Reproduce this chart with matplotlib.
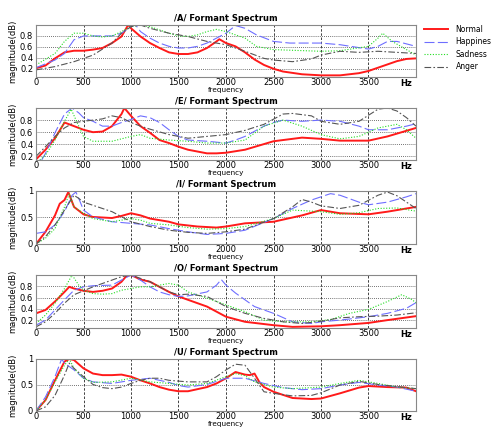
import matplotlib
matplotlib.use("Agg")
import matplotlib.pyplot as plt
from matplotlib.transforms import blended_transform_factory

plt.rcParams['font.family'] = ['DejaVu Sans']

series_names = ["Normal", "Happines", "Sadness", "Anger"]
vowels = ["/A/", "/E/", "/I/", "/O/", "/U/"]

# ---------------- /A/ ----------------
A_normal_f = [0, 100, 200, 300, 400, 500, 600, 700, 800, 900, 960, 980, 1000, 1100, 1200, 1300, 1400, 1500, 1600, 1700, 1800, 1900, 1930, 2000, 2100, 2200, 2300, 2400, 2500, 2600, 2800, 3000, 3200, 3400, 3500, 3600, 3700, 3800, 3900, 4000]
A_normal_m = [0.21, 0.26, 0.39, 0.50, 0.53, 0.53, 0.55, 0.58, 0.67, 0.79, 0.97, 1.00, 0.94, 0.79, 0.67, 0.58, 0.50, 0.47, 0.47, 0.50, 0.58, 0.70, 0.74, 0.67, 0.61, 0.50, 0.37, 0.27, 0.20, 0.15, 0.10, 0.08, 0.08, 0.12, 0.16, 0.22, 0.28, 0.34, 0.38, 0.39]
A_happy_f = [0, 200, 300, 400, 500, 600, 800, 900, 1000, 1050, 1100, 1200, 1300, 1400, 1500, 1600, 1700, 1800, 1900, 2000, 2100, 2200, 2320, 2500, 2670, 3000, 3200, 3500, 3600, 3700, 3800, 4000]
A_happy_m = [0.22, 0.36, 0.48, 0.73, 0.80, 0.80, 0.80, 0.85, 0.97, 1.00, 0.88, 0.76, 0.67, 0.61, 0.58, 0.58, 0.61, 0.67, 0.76, 0.85, 0.99, 0.94, 0.82, 0.70, 0.67, 0.67, 0.64, 0.56, 0.61, 0.70, 0.70, 0.61]
A_sad_f = [0, 200, 300, 400, 500, 600, 700, 800, 900, 1000, 1100, 1200, 1300, 1400, 1500, 1600, 1700, 1800, 1900, 2000, 2100, 2200, 2320, 2500, 3000, 3200, 3500, 3600, 3650, 3750, 3900, 4000]
A_sad_m = [0.27, 0.48, 0.70, 0.85, 0.85, 0.80, 0.78, 0.80, 0.88, 0.97, 1.00, 0.97, 0.91, 0.85, 0.80, 0.79, 0.82, 0.88, 0.92, 0.88, 0.82, 0.76, 0.61, 0.55, 0.52, 0.53, 0.61, 0.76, 0.85, 0.70, 0.55, 0.45]
A_anger_f = [0, 200, 400, 600, 800, 900, 1000, 1100, 1200, 1400, 1600, 1800, 2000, 2100, 2200, 2400, 2500, 2700, 2900, 3000, 3200, 3400, 3600, 3800, 4000]
A_anger_m = [0.18, 0.24, 0.33, 0.45, 0.67, 0.85, 0.97, 1.00, 0.94, 0.85, 0.79, 0.70, 0.64, 0.58, 0.52, 0.39, 0.36, 0.33, 0.38, 0.45, 0.52, 0.50, 0.52, 0.50, 0.48]

# ---------------- /E/ ----------------
E_normal_f = [0, 100, 200, 300, 400, 500, 600, 700, 800, 900, 930, 1000, 1100, 1200, 1300, 1400, 1500, 1600, 1700, 1800, 1900, 2000, 2200, 2500, 2800, 3000, 3200, 3500, 3700, 4000]
E_normal_m = [0.15, 0.31, 0.50, 0.76, 0.70, 0.64, 0.60, 0.61, 0.70, 0.90, 1.00, 0.87, 0.70, 0.59, 0.47, 0.42, 0.36, 0.31, 0.28, 0.25, 0.25, 0.26, 0.31, 0.45, 0.51, 0.49, 0.46, 0.46, 0.53, 0.67]
E_happy_f = [60, 100, 200, 300, 380, 450, 500, 600, 700, 800, 900, 1000, 1100, 1200, 1300, 1400, 1500, 1600, 1800, 2000, 2100, 2200, 2400, 2500, 2600, 2800, 3000, 3200, 3400, 3500, 3700, 3900, 4000]
E_happy_m = [0.14, 0.25, 0.59, 0.90, 1.00, 0.92, 0.84, 0.78, 0.70, 0.70, 0.76, 0.81, 0.87, 0.84, 0.76, 0.64, 0.53, 0.47, 0.45, 0.42, 0.47, 0.53, 0.70, 0.76, 0.80, 0.78, 0.80, 0.78, 0.70, 0.64, 0.64, 0.70, 0.74]
E_sad_f = [40, 100, 200, 300, 370, 450, 500, 600, 800, 1000, 1100, 1200, 1400, 1600, 1800, 2000, 2200, 2400, 2600, 2800, 3000, 3200, 3400, 3600, 3800, 3900, 4000]
E_sad_m = [0.14, 0.22, 0.47, 0.78, 0.98, 0.70, 0.53, 0.45, 0.45, 0.53, 0.56, 0.50, 0.47, 0.45, 0.42, 0.42, 0.47, 0.70, 0.80, 0.70, 0.56, 0.49, 0.53, 0.67, 0.73, 0.64, 0.50]
E_anger_f = [0, 100, 200, 300, 400, 500, 700, 800, 900, 1000, 1100, 1200, 1400, 1600, 1800, 2000, 2200, 2400, 2600, 2700, 2900, 3000, 3200, 3400, 3600, 3700, 3800, 3900, 4000]
E_anger_m = [0.20, 0.36, 0.53, 0.67, 0.76, 0.78, 0.82, 0.87, 0.84, 0.76, 0.70, 0.65, 0.56, 0.50, 0.53, 0.56, 0.63, 0.73, 0.90, 0.91, 0.87, 0.78, 0.73, 0.78, 0.98, 1.00, 0.95, 0.84, 0.70]

# ---------------- /I/ ----------------
I_normal_f = [0, 100, 200, 250, 300, 340, 400, 500, 600, 800, 900, 1000, 1100, 1200, 1400, 1500, 1700, 1900, 2000, 2200, 2500, 2800, 3000, 3200, 3500, 3700, 4000]
I_normal_m = [0.00, 0.23, 0.54, 0.76, 0.83, 0.98, 0.70, 0.56, 0.51, 0.49, 0.53, 0.58, 0.54, 0.48, 0.42, 0.37, 0.33, 0.31, 0.33, 0.39, 0.42, 0.54, 0.64, 0.58, 0.56, 0.61, 0.70]
I_happy_f = [0, 100, 200, 300, 380, 420, 450, 500, 600, 800, 1000, 1200, 1400, 1600, 1800, 2000, 2200, 2500, 2700, 2900, 3100, 3200, 3400, 3500, 3700, 3900, 4000]
I_happy_m = [0.20, 0.23, 0.36, 0.61, 0.92, 0.98, 0.86, 0.64, 0.51, 0.42, 0.39, 0.36, 0.29, 0.23, 0.18, 0.20, 0.26, 0.48, 0.67, 0.83, 0.95, 0.92, 0.79, 0.74, 0.79, 0.89, 0.95]
I_sad_f = [0, 100, 200, 300, 350, 400, 500, 600, 800, 1000, 1100, 1200, 1400, 1600, 1800, 2000, 2200, 2500, 2700, 3000, 3200, 3400, 3600, 3800, 4000]
I_sad_m = [0.00, 0.11, 0.29, 0.70, 0.95, 0.70, 0.58, 0.48, 0.42, 0.48, 0.45, 0.39, 0.36, 0.31, 0.28, 0.29, 0.33, 0.48, 0.64, 0.61, 0.56, 0.59, 0.67, 0.68, 0.62]
I_anger_f = [0, 100, 200, 300, 400, 450, 500, 600, 800, 1000, 1200, 1400, 1600, 1800, 2000, 2200, 2500, 2700, 2800, 2900, 3000, 3200, 3400, 3600, 3700, 3800, 4000]
I_anger_m = [0.00, 0.14, 0.36, 0.64, 0.92, 0.86, 0.79, 0.73, 0.61, 0.42, 0.33, 0.26, 0.22, 0.20, 0.23, 0.28, 0.48, 0.70, 0.84, 0.79, 0.72, 0.67, 0.73, 0.92, 0.98, 0.91, 0.67]

# ---------------- /O/ ----------------
O_normal_f = [0, 100, 200, 300, 350, 400, 500, 600, 700, 800, 900, 950, 1000, 1100, 1200, 1300, 1400, 1500, 1600, 1800, 2000, 2200, 2500, 2700, 3000, 3200, 3500, 3700, 4000]
O_normal_m = [0.32, 0.38, 0.53, 0.70, 0.79, 0.76, 0.72, 0.70, 0.72, 0.76, 0.88, 0.98, 1.00, 0.92, 0.88, 0.79, 0.70, 0.62, 0.56, 0.44, 0.26, 0.17, 0.11, 0.08, 0.09, 0.11, 0.15, 0.20, 0.27]
O_happy_f = [0, 100, 200, 300, 400, 500, 600, 800, 900, 1000, 1100, 1200, 1300, 1400, 1500, 1600, 1800, 1900, 1950, 2000, 2100, 2200, 2300, 2500, 2700, 2900, 3000, 3200, 3500, 3700, 3900, 4000]
O_happy_m = [0.11, 0.20, 0.38, 0.56, 0.73, 0.79, 0.81, 0.82, 0.91, 1.00, 0.91, 0.79, 0.70, 0.65, 0.62, 0.63, 0.70, 0.82, 0.92, 0.82, 0.68, 0.56, 0.44, 0.32, 0.17, 0.14, 0.17, 0.20, 0.26, 0.32, 0.41, 0.51]
O_sad_f = [0, 100, 200, 300, 380, 450, 500, 600, 700, 800, 900, 1000, 1100, 1200, 1300, 1400, 1500, 1600, 1800, 2000, 2200, 2400, 2600, 2900, 3100, 3300, 3500, 3700, 3850, 3950, 4000]
O_sad_m = [0.14, 0.29, 0.50, 0.76, 1.00, 0.82, 0.73, 0.67, 0.66, 0.67, 0.73, 0.76, 0.79, 0.79, 0.82, 0.85, 0.82, 0.70, 0.59, 0.47, 0.35, 0.20, 0.17, 0.17, 0.21, 0.32, 0.39, 0.53, 0.65, 0.57, 0.51]
O_anger_f = [0, 100, 200, 300, 400, 500, 600, 700, 800, 900, 1000, 1100, 1200, 1300, 1400, 1500, 1600, 1800, 2000, 2200, 2400, 2600, 2800, 3000, 3200, 3400, 3600, 3800, 4000]
O_anger_m = [0.08, 0.17, 0.32, 0.50, 0.65, 0.72, 0.79, 0.85, 0.91, 0.97, 1.00, 0.94, 0.88, 0.79, 0.70, 0.65, 0.66, 0.62, 0.44, 0.32, 0.23, 0.17, 0.14, 0.18, 0.24, 0.26, 0.27, 0.29, 0.33]

# ---------------- /U/ ----------------
U_normal_f = [0, 100, 200, 300, 350, 400, 500, 600, 700, 800, 900, 1000, 1100, 1200, 1300, 1400, 1500, 1600, 1800, 1900, 2000, 2100, 2200, 2250, 2300, 2350, 2400, 2500, 2700, 2900, 3000, 3200, 3400, 3500, 3700, 3900, 4000]
U_normal_m = [0.00, 0.21, 0.59, 0.95, 1.00, 0.98, 0.82, 0.72, 0.69, 0.69, 0.70, 0.66, 0.59, 0.53, 0.46, 0.41, 0.38, 0.38, 0.46, 0.53, 0.63, 0.75, 0.70, 0.69, 0.72, 0.56, 0.46, 0.37, 0.25, 0.23, 0.24, 0.34, 0.45, 0.48, 0.46, 0.45, 0.38]
U_happy_f = [0, 100, 200, 270, 300, 400, 500, 600, 800, 1000, 1200, 1400, 1500, 1600, 1800, 2000, 2200, 2400, 2600, 2800, 3000, 3200, 3400, 3600, 3800, 4000]
U_happy_m = [0.00, 0.27, 0.66, 1.00, 0.92, 0.79, 0.63, 0.56, 0.53, 0.59, 0.63, 0.55, 0.49, 0.46, 0.51, 0.63, 0.63, 0.53, 0.45, 0.41, 0.43, 0.50, 0.55, 0.50, 0.46, 0.38]
U_sad_f = [0, 100, 200, 300, 350, 400, 500, 600, 800, 1000, 1200, 1400, 1600, 1800, 2000, 2100, 2200, 2300, 2500, 2700, 3000, 3200, 3400, 3600, 3800, 4000]
U_sad_m = [0.00, 0.21, 0.56, 0.88, 1.00, 0.82, 0.63, 0.55, 0.56, 0.63, 0.56, 0.53, 0.50, 0.53, 0.66, 0.72, 0.68, 0.56, 0.46, 0.43, 0.46, 0.53, 0.59, 0.53, 0.46, 0.43]
U_anger_f = [0, 100, 200, 300, 350, 400, 500, 600, 700, 800, 900, 1000, 1100, 1200, 1300, 1400, 1600, 1800, 1900, 2000, 2100, 2200, 2300, 2400, 2500, 2700, 2900, 3000, 3200, 3400, 3600, 4000]
U_anger_m = [0.00, 0.08, 0.30, 0.69, 0.92, 0.82, 0.66, 0.51, 0.45, 0.43, 0.46, 0.53, 0.59, 0.63, 0.63, 0.59, 0.56, 0.56, 0.66, 0.79, 0.90, 0.88, 0.63, 0.37, 0.34, 0.29, 0.30, 0.35, 0.50, 0.57, 0.51, 0.43]

panels = [
    (A_normal_f, A_normal_m, A_happy_f, A_happy_m, A_sad_f, A_sad_m, A_anger_f, A_anger_m),
    (E_normal_f, E_normal_m, E_happy_f, E_happy_m, E_sad_f, E_sad_m, E_anger_f, E_anger_m),
    (I_normal_f, I_normal_m, I_happy_f, I_happy_m, I_sad_f, I_sad_m, I_anger_f, I_anger_m),
    (O_normal_f, O_normal_m, O_happy_f, O_happy_m, O_sad_f, O_sad_m, O_anger_f, O_anger_m),
    (U_normal_f, U_normal_m, U_happy_f, U_happy_m, U_sad_f, U_sad_m, U_anger_f, U_anger_m),
]

ylims = [(0.05, 1.0), (0.14, 1.0), (0.0, 1.0), (0.06, 1.0), (0.0, 1.0)]
yticks_list = [[0.2, 0.4, 0.6, 0.8], [0.2, 0.4, 0.6, 0.8], [0, 0.5, 1], [0.2, 0.4, 0.6, 0.8], [0, 0.5, 1]]
ytick_labels = [["0.2", "0.4", "0.6", "0.8"], ["0.2", "0.4", "0.6", "0.8"], ["0", "0.5", "1"],
                ["0.2", "0.4", "0.6", "0.8"], ["0", "0.5", "1"]]
xticks = [0, 500, 1000, 1500, 2000, 2500, 3000, 3500]

styles = [
    dict(color="#ff1a1a", lw=1.4, ls="-"),
    dict(color="#6e6eff", lw=0.8, ls=(0, (9, 3))),
    dict(color="#22dd22", lw=0.8, ls=(0, (1, 1.5))),
    dict(color="#555555", lw=0.8, ls=(0, (6, 2, 1.5, 2))),
]

W, H = 491, 428
fig = plt.figure(figsize=(W / 100, H / 100), dpi=100)

tops = [25, 108, 191, 275, 359]
bots = [77, 160, 244, 328, 411]
left, right = 36, 416

for i, (vow, data) in enumerate(zip(vowels, panels)):
    ax = fig.add_axes([left / W, 1 - bots[i] / H, (right - left) / W, (bots[i] - tops[i]) / H])
    lines = []
    for k in range(4):
        f = data[2 * k]
        m = data[2 * k + 1]
        ln, = ax.plot(f, m, label=series_names[k], **styles[k])
        lines.append(ln)
    ax.set_xlim(0, 4000)
    ax.set_ylim(*ylims[i])
    ax.set_xticks(xticks)
    ax.set_xticklabels([str(t) for t in xticks], fontsize=6)
    ax.set_yticks(yticks_list[i])
    ax.set_yticklabels(ytick_labels[i], fontsize=6)
    ax.tick_params(axis="y", length=0, pad=2)
    ax.tick_params(axis="x", length=0, pad=1)
    for t in xticks[1:]:
        ax.axvline(t, color="#222222", lw=0.6, ls=(0, (3, 2)), zorder=0)
    for t in yticks_list[i]:
        if ylims[i][0] < t < ylims[i][1]:
            ax.axhline(t, color="#444444", lw=0.6, ls=(0, (1, 1.5)), zorder=0)
    for sp in ax.spines.values():
        sp.set_color("#888888")
        sp.set_linewidth(0.8)
    ax.set_title(vow + " Formant Spectrum", fontsize=6, fontweight="bold", pad=3)
    ax.set_ylabel("magnitude(dB)", fontsize=6, labelpad=2)
    ax.set_xlabel("frequency", fontsize=5.2, labelpad=(-0.5 if i == 4 else 0))
    trans = blended_transform_factory(ax.transData, ax.transAxes)
    ax.text(3900, -0.04, "Hz", transform=trans, fontsize=6, fontweight="bold",
            ha="center", va="top")
    if i == 0:
        fig.legend(lines, series_names, loc="upper left",
                   bbox_to_anchor=(424 / W, 1 - 25 / H), frameon=False,
                   fontsize=5.5, handlelength=3.1, labelspacing=0.45,
                   handletextpad=1.05, borderaxespad=0, borderpad=0)

fig.savefig("out.png", dpi=100)
